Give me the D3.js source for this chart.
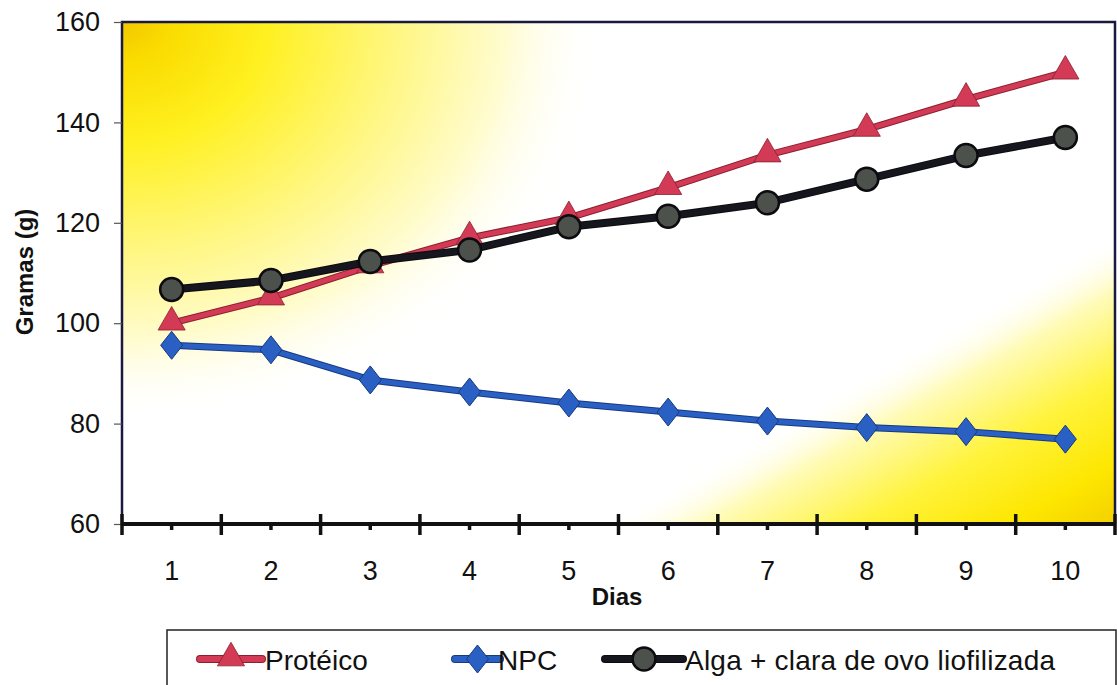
<!DOCTYPE html>
<html><head><meta charset="utf-8">
<script src="https://cdn.jsdelivr.net/npm/d3@7"></script>
<style>body{margin:0;background:#fff}svg{display:block}text{font-family:"Liberation Sans",Arial,sans-serif;fill:#111}</style>
</head><body><svg id="c" width="1117" height="685"></svg>
<script>
const dias = ["1","2","3","4","5","6","7","8","9","10"];
const yTicks = [60, 80, 100, 120, 140, 160];
const proteico = [100, 105, 111.4, 117, 121, 127, 133.5, 138.6, 144.6, 150];
const npc = [95.6, 94.7, 88.7, 86.3, 84.1, 82.3, 80.5, 79.2, 78.4, 76.9];
const alga = [106.7, 108.5, 112.3, 114.6, 119.2, 121.3, 124, 128.7, 133.4, 137];
const seriesNames = ["Protéico", "NPC", "Alga + clara de ovo liofilizada"];

const svg = d3.select("#c");
const L = 122, R = 1115, T = 22, B = 524;
const x = d3.scaleBand().domain(dias).range([L, R]);
const y = d3.scaleLinear().domain([60, 160]).range([B, T]);

// background gradients
const defs = svg.append("defs");
const rg = defs.append("radialGradient").attr("id","tl").attr("gradientUnits","userSpaceOnUse")
  .attr("cx",0).attr("cy",0).attr("r",1).attr("gradientTransform",`translate(${L},${T}) scale(480,400)`);
[[0,"#f2c800",1],[0.1,"#fadc00",1],[0.3,"#fff020",1],[0.55,"#fff67a",1],[0.8,"#fffcd0",1],[1,"#ffffff",0]]
  .forEach(s => rg.append("stop").attr("offset", s[0]).attr("stop-color", s[1]).attr("stop-opacity", s[2]));
const lg = defs.append("linearGradient").attr("id","br").attr("gradientUnits","userSpaceOnUse")
  .attr("x1", R - 125).attr("y1", B - 220).attr("x2", R).attr("y2", B);
[[0,"#ffffff",0],[0.2,"#fffbb8",1],[0.5,"#fff33c",1],[0.8,"#fde600",1],[1,"#f4d000",1]]
  .forEach(s => lg.append("stop").attr("offset", s[0]).attr("stop-color", s[1]).attr("stop-opacity", s[2]));
svg.append("rect").attr("x", L).attr("y", T).attr("width", R - L).attr("height", B - T).attr("fill", "#fff");
svg.append("rect").attr("x", L).attr("y", T).attr("width", R - L).attr("height", B - T).attr("fill", "url(#tl)");
svg.append("rect").attr("x", L).attr("y", T).attr("width", R - L).attr("height", B - T).attr("fill", "url(#br)");
// border
svg.append("path").attr("d", `M${L},${B}V${T}H${R}V${B}`).attr("fill","none").attr("stroke","#1a1a40").attr("stroke-width",2.5);

// y axis
const ya = svg.append("g").attr("transform", `translate(${L},0)`)
  .call(d3.axisLeft(y).tickValues(yTicks).tickSize(8).tickPadding(14));
ya.select(".domain").remove();
ya.selectAll("line").attr("stroke","#555").attr("stroke-width",1.2);
ya.selectAll("text").attr("font-size", 27).attr("fill","#111");

// x axis
svg.append("line").attr("x1", L).attr("x2", R).attr("y1", B).attr("y2", B).attr("stroke","#111").attr("stroke-width",4);
const bounds = dias.map(d => x(d)).concat([R]);
svg.append("g").selectAll("line").data(bounds).join("line")
  .attr("x1", d => d).attr("x2", d => d).attr("y1", B - 10).attr("y2", B + 11)
  .attr("stroke","#111").attr("stroke-width",3.5);
const xa = svg.append("g").attr("transform", `translate(0,${B})`)
  .call(d3.axisBottom(x).tickSize(6).tickPadding(31));
xa.select(".domain").remove();
xa.selectAll("line").attr("stroke","#111").attr("stroke-width",3.5);
xa.selectAll("text").attr("font-size", 27).attr("fill","#111");

svg.append("text").attr("x", 617).attr("y", 605).attr("text-anchor","middle").attr("font-size",24).attr("font-weight","bold").text("Dias");
svg.append("text").attr("transform","translate(33,272) rotate(-90)").attr("text-anchor","middle").attr("font-size",24).attr("font-weight","bold").text("Gramas (g)");

const cx = d => x(d) + x.bandwidth()/2;
const line = d3.line().x((v,i) => cx(dias[i])).y(v => y(v));

const styles = [
  {data: proteico, color:"#d23a55", edge:"#8a2030", marker:"tri", w:5},
  {data: npc, color:"#2a5fc4", edge:"#173a80", marker:"dia", w:5},
  {data: alga, color:"#16161e", edge:"#0c0c10", marker:"circ", fill:"#4c514c", w:6}
];
const tri = d3.symbol().type(d3.symbolTriangle).size(320);
const dia = "M0,-14L11,0L0,14L-11,0Z";
function drawMarker(sel, m, s){
  if (m === "tri") sel.append("path").attr("d", tri()).attr("transform","translate(0,-1)").attr("fill", s.color).attr("stroke", s.edge).attr("stroke-width",0.8);
  else if (m === "dia") sel.append("path").attr("d", dia).attr("fill", s.color).attr("stroke", s.edge).attr("stroke-width",1);
  else sel.append("circle").attr("r", 11.5).attr("fill", s.fill).attr("stroke", s.edge).attr("stroke-width",2.5);
}
[1,0,2].forEach(k => {
  const s = styles[k];
  svg.append("path").attr("d", line(s.data)).attr("fill","none").attr("stroke", s.edge).attr("stroke-width",s.w+2).attr("stroke-linejoin","round");
  svg.append("path").attr("d", line(s.data)).attr("fill","none").attr("stroke", s.color).attr("stroke-width",s.w).attr("stroke-linejoin","round");
  s.data.forEach((v,i) => {
    const gg = svg.append("g").attr("transform", `translate(${cx(dias[i])},${y(v)})`);
    drawMarker(gg, s.marker, s);
  });
});

// legend
svg.append("path").attr("d", `M167,${686}V630H1116V686`).attr("fill","#fff").attr("stroke","#222").attr("stroke-width",1.5);
const legX = [[200,262,265],[455,500,498],[605,683,685]];
styles.forEach((s,k) => {
  const [a,b,t] = legX[k];
  const ly = 659;
  svg.append("line").attr("x1",a).attr("x2",b).attr("y1",ly).attr("y2",ly).attr("stroke",s.edge).attr("stroke-width",8).attr("stroke-linecap","round");
  svg.append("line").attr("x1",a).attr("x2",b).attr("y1",ly).attr("y2",ly).attr("stroke",s.color).attr("stroke-width",6).attr("stroke-linecap","round");
  const gg = svg.append("g").attr("transform",`translate(${(a+b)/2},${ly})`);
  drawMarker(gg, s.marker, s);
  svg.append("text").attr("x", t).attr("y", ly + 11).attr("font-size", 28).attr("textLength", k === 2 ? 370 : null).text(seriesNames[k]);
});
</script></body></html>
